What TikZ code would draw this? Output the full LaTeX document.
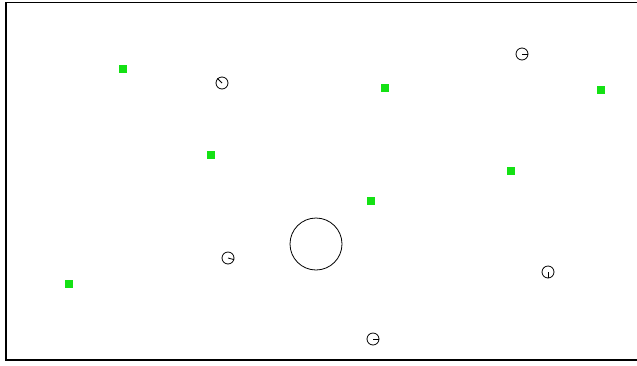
\documentclass[tikz,border=0pt]{standalone}
\begin{document}
\begin{tikzpicture}[x=1pt,y=-1pt,
  sq/.style={fill={rgb,255:red,20;green,225;blue,20}, draw=none, minimum size=8.5pt, inner sep=0pt},
  agent/.style={draw, circle, minimum size=12pt, inner sep=0pt, line width=0.8pt},
  big/.style={draw, circle, minimum size=52pt, inner sep=0pt, line width=0.8pt}]
\useasboundingbox (0,0) rectangle (637,365);
\draw[line width=1.1pt] (640,2.5) -- (6,2.5) -- (6,360) -- (640,360);
\node[sq] (g1) at (123,69) {};
\node[sq] (g2) at (385,88) {};
\node[sq] (g3) at (601,90) {};
\node[sq] (g4) at (211,155) {};
\node[sq] (g5) at (511,171) {};
\node[sq] (g6) at (371,201) {};
\node[sq] (g7) at (69,284) {};
\node[agent] (a1) at (222,83) {};
\draw[line width=0.8pt] (a1.center) -- (a1.135);
\node[agent] (a2) at (522,54) {};
\draw[line width=0.8pt] (a2.center) -- (a2.0);
\node[agent] (a3) at (228,258) {};
\draw[line width=0.8pt] (a3.center) -- (a3.-15);
\node[agent] (a4) at (548,272) {};
\draw[line width=0.8pt] (a4.center) -- (a4.-90);
\node[agent] (a5) at (373,339) {};
\draw[line width=0.8pt] (a5.center) -- (a5.0);
\node[big] (o1) at (316,244) {};
\end{tikzpicture}
\end{document}
